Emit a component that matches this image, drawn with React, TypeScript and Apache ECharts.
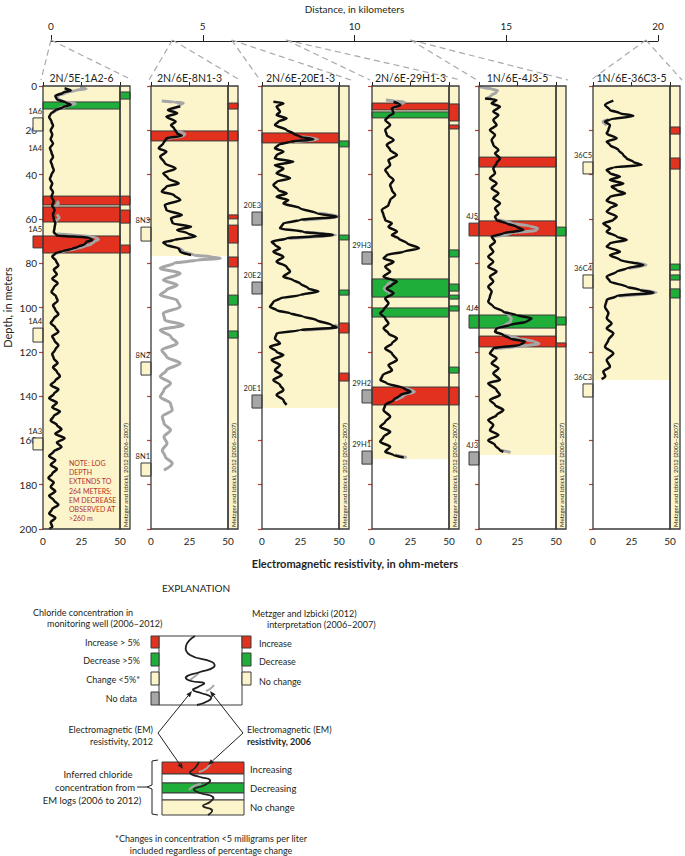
import React, { useEffect, useRef } from "react";
import * as echarts from "echarts";

const FONT = "Lato, 'Open Sans', 'DejaVu Sans', sans-serif";
const INK = "#231f20";
const RED = "#e2321f";
const GREEN = "#1fae3a";
const CREAM = "#fcf5cc";
const NODATA = "#a7a7a7";
const LINE2006 = "#a6a6a6";
const TICKRED = "#b8432f";
const CODE_COLOR: Record<string, string> = { I: RED, D: GREEN, N: CREAM, X: NODATA };

// ---------- data ----------
const wellNames = ["2N/5E-1A2-6", "2N/6E-8N1-3", "2N/6E-20E1-3", "2N/6E-29H1-3", "1N/6E-4J3-5", "1N/6E-36C3-5"];
const wellDistanceKm = [0, 4.0, 5.95, 7.75, 11.85, 19.6];
const logBottomDepth = [200, 76.7, 145.4, 168.4, 166.6, 132.7];

// EM resistivity 2012: [depth m, ohm-m]
const em2012_1 = [[1,14],[2,18],[3,13],[4.5,8],[6,9],[7.5,15],[8.5,18],[9.5,13],[11,8],[12.5,5],[14,4],[16,5.5],[18,6.5],[20,5],[22,6],[24,5],[26,6.5],[28,4.5],[30,5.5],[32,6.5],[34,5],[36,6],[38,7],[40,5.5],[42,4.5],[44,6],[46,5],[48,6.5],[50,5.5],[52,7],[54,6],[56,7.5],[58,6.5],[60,7],[62,8],[64,7.5],[66,7],[67.5,9],[68.5,30],[69.5,32],[70.5,28],[71.5,27],[72.5,23],[73.5,19],[74.5,13],[75.5,8],[77,6],[79,8.5],[81,10],[83,7],[85,9],[87,6],[89,9.5],[91,7],[93,5.5],[95,8.5],[97,9.5],[99,6.5],[101,8],[103,10],[105,7],[107,5],[109,8],[111,10],[113,6],[115,7.5],[117,10],[119,8],[121,6],[123,7],[125,9.5],[127,6.5],[129,9],[131,11],[133,8],[135,5],[137,10],[139,7],[141,4],[143,9],[145,6],[147,11],[149,7],[151,5],[153,9],[155,12],[157,8],[159,14],[161,9],[163,12],[165,7],[167,4],[169,8],[171,5],[173,9],[175,6],[177,3.5],[179,7],[181,5],[183,8],[185,4],[187,7],[189,10],[191,6],[193,4],[195,8],[197,5],[199,6],[200,4]];
const em2012_2 = [[9.3,19],[10.8,11],[12.3,17],[13.8,10],[16.1,16],[17.6,13],[19.1,15],[21.4,17],[22.5,20],[23.6,10],[25.9,8],[28.1,5],[29.6,10],[31.9,6],[34.9,9],[37.2,16],[39.4,8],[41.7,11],[44,18],[45.4,10],[47.7,7],[49.2,15],[51.5,19],[53.7,9],[56,10],[58.2,20],[59.7,13],[62,14],[63.5,26],[65,17],[66.5,24],[68,29],[69.5,15],[70.6,8],[71.8,10],[73.3,18],[74.8,19],[76.3,26]];
const em2012_3 = [[7.1,7.4],[7.8,13.9],[9.3,9.5],[11.6,11.7],[13.1,9.5],[14.6,16],[16.1,10.6],[17.6,8.4],[19.9,16],[21.4,20.3],[22.9,24.7],[24.1,33.3],[25.1,18.2],[26.6,10.6],[28.1,8.4],[29.6,13.9],[31.2,9.5],[32.7,8.4],[34.2,20.3],[35.7,8.4],[37.2,13.9],[39.4,9.5],[41.7,18.2],[43.2,9.5],[44.7,7.4],[47,10.6],[48.5,16],[50,9.5],[51.5,17.1],[53,13.9],[55.2,24.7],[57.5,35.5],[59,48.5],[60.5,24.7],[62,13.9],[64.3,11.7],[65.8,26.8],[67.3,46],[68.8,16],[70.3,6.3],[71.8,8.4],[73.3,11.7],[74.8,7.4],[77.1,13.9],[79.3,9.5],[81.6,16],[83.8,18.2],[86.1,13.9],[87.6,20.3],[89.1,24.7],[91.4,30.1],[92.8,36.6],[94.4,24.7],[95.9,11.7],[97.4,7.4],[99.7,5.2],[101.2,9.5],[102.6,18.2],[104.1,26.8],[105.7,35.5],[107.9,45.2],[109,48.5],[110.2,24.7],[111.7,9.5],[114,8.4],[116.2,11.7],[117.7,5.2],[120,9.5],[121.5,13.9],[123.7,6.3],[126,11.7],[128.3,8.4],[130.5,12.8],[132.7,7.4],[135,11.7],[137.2,13.9],[139.5,9.5],[141.8,13.9],[144,16]];
const em2012_4 = [[7.1,14],[8.6,18.4],[10.1,12.9],[12.3,14],[13.8,10.7],[15.4,8.6],[17.6,11.8],[19.9,8.6],[22.1,9.6],[24.4,14],[26.6,9.6],[28.9,11.8],[31.2,16.2],[33.4,10.7],[35.7,11.8],[37.9,8.6],[40.2,10.7],[42.4,14],[44.7,11.8],[47,12.9],[49.2,15.1],[51.5,11.8],[53.7,10.7],[56,6.4],[58.2,7.5],[60.5,8.6],[62,12.9],[63.5,10.7],[65.8,16.2],[67.3,12.9],[68.8,17.3],[71,22.8],[73.3,30.5],[74.8,20.6],[76.3,9.6],[77.8,7.5],[79.3,14],[81.6,8.6],[83.8,11.8],[86.1,7.5],[88.3,16.2],[89.8,12.9],[91.4,9.6],[93.6,14],[95.9,8.6],[98.1,10.7],[101.1,7.5],[102.6,5.3],[104.9,8.6],[107.2,10.7],[109.4,7.5],[111.7,10.7],[114,16.2],[116.2,12.9],[118.5,8.6],[120.7,12.9],[123.7,16.2],[126,10.7],[128.3,13],[130.5,7],[132.7,5.5],[134.2,9.6],[136.5,20.6],[138,25],[139.5,18.4],[141.8,14],[144,8.6],[146.3,7.5],[149.3,11.8],[151.6,8.6],[153.8,5.3],[156.1,11.8],[158.4,7.5],[160.6,5.3],[162.9,11.8],[165.1,8.6],[166.6,14],[167.7,20.6]];
const em2012_5 = [[5.6,3.9],[6.3,11.4],[7.8,8.2],[9.3,13.6],[11.6,9.3],[13.1,12.6],[15.4,9.3],[17.6,11.4],[19.9,7.1],[22.1,10.4],[24.4,8.2],[26.6,9.3],[28.9,12.6],[30.4,10.4],[32.7,13.6],[34.9,11.4],[37.2,9.3],[39.4,10.4],[41.7,7.1],[44,11.4],[46.2,8.2],[48.5,12.6],[50.7,9.3],[53,13.6],[55.2,10.4],[57.5,12.6],[59,10.4],[60.5,11.4],[62,17.9],[63.5,24.4],[65,28.8],[66.5,15.8],[68,8.2],[70.3,10.4],[72.5,7.1],[74.8,9.3],[77.1,6],[79.3,9.3],[81.6,6],[83.8,11.4],[86.1,7.1],[88.3,9.3],[90.6,6],[92.8,8.2],[95.1,7.1],[97.4,6],[99.6,9.3],[101.9,15.8],[103.4,24.4],[104.9,34.2],[106.4,30.9],[107.9,20.1],[109.4,11.4],[110.9,10.4],[112.4,15.8],[114,20.1],[115.4,29.9],[116.9,26.6],[118.4,9.3],[120.7,7.1],[123,11.4],[125.2,8.2],[127.5,12.6],[129.7,9.3],[132.7,13.6],[134.2,6],[137.2,11.4],[139.5,13.6],[141.8,7.1],[144,10.4],[146.3,15.8],[148.6,11.4],[150.8,6],[153.1,9.3],[155.4,7.1],[157.6,12.6],[159.9,6],[162.2,10.4],[164.4,13.6],[165.1,15.8]];
const em2012_6 = [[6.6,13.2],[8.6,7.8],[10.8,11],[12.3,17.5],[13.5,26.2],[15.1,11],[16.1,7.8],[17.6,11],[19.9,10],[21.4,8.9],[23.6,15.4],[25.1,8.9],[26.6,11],[28.9,16.5],[31.2,19.7],[32.7,21.9],[34.2,26.2],[35.7,31.6],[36.7,13.2],[37.9,8.9],[39.4,11],[40.9,17.5],[42.4,11],[44,19.7],[45.4,12.1],[47,15.4],[48.5,20.8],[50,11],[51.8,8.9],[53.7,15.4],[55.2,11],[56.7,8.9],[59,15.4],[60.5,13.2],[62,6.7],[64.3,11],[65.8,8.9],[68,15.4],[69.5,21.9],[71,11],[72.5,8.9],[74.8,17.5],[76.3,11],[78.5,17.5],[80.8,32.7],[82.3,21.9],[83.8,15.4],[86.1,8.9],[88.3,11],[90.6,21.9],[92.1,30.5],[93.3,39.2],[94.8,15.4],[96.6,8.9],[99.7,7.8],[102.6,10],[104.9,8.9],[107.2,12.1],[109.4,8.9],[111.7,13.2],[114.7,10],[117.7,7.8],[120.7,13.2],[123.7,8.9],[126.7,11],[129,6.7],[131,8],[132.3,5.6]];

// EM resistivity 2006 (visible segments): [depth m, ohm-m]
const em2006_1 = [[[0.5,24],[1.2,28],[2,21],[3,15],[4.2,10],[5.5,9],[7,13],[8,21],[9,16],[10.2,10],[12,6]],[[66.8,9],[68.2,34],[69.3,36],[70.4,33],[71.4,31],[72.4,27],[73.4,22],[74.4,15],[75.6,8]],[[52,9],[53,10],[54,8]],[[58,9],[59.5,10.5],[61,8]]];
const em2006_2 = [[[6.8,7],[7.2,15],[7.6,21],[8.5,19],[9.5,17],[10.8,12]],[[20.3,16],[21.6,22],[22.6,21],[23.6,11]],[[73.3,18],[74.8,21],[76.3,28],[77.3,40],[77.8,45],[78.6,30],[80,15],[82.3,6],[84.6,19],[87.6,8],[89.8,17],[92.1,10],[94.4,6],[96.7,17],[99.7,19],[102.6,8],[105.7,9],[107.9,21],[110.2,6],[113.2,13],[116.2,17],[119.2,7],[122.2,10],[125.2,19],[128.3,10],[131.2,6],[134.2,12.7],[137.2,8.4],[140.3,6],[143.3,12.7],[146.3,13.8],[149.3,7.3],[152.3,8.4],[155.3,12.7],[158.4,8.4],[161.4,10.4],[164.4,7.3],[167.4,9.3],[170.4,13.8],[173.4,8.4]]];
const em2006_3 = [[[22.9,26],[24.1,36],[25.1,21]],[[57.5,37],[59,50],[60.5,27]],[[66,28],[67.3,48],[68.8,18]],[[107.9,47],[109,50],[110.2,27]]];
const em2006_4 = [[[6.3,9],[6.8,15],[7.3,21],[8.6,17],[10.1,14]],[[88.3,13],[89.8,10],[91.4,8],[93.6,12]],[[136.5,22],[138,27.5],[139.5,21],[141.8,15]],[[166.6,15],[167.7,22.5]]];
const em2006_5 = [[[0.3,0.5],[0.8,3],[1.3,8],[2,12],[3,11],[4.2,8],[5.6,5]],[[60.5,12],[62,22],[63.2,33],[64.2,38],[65.2,37],[66.3,22],[68,9]],[[101.9,15.5],[103.4,19],[104.9,21],[106.4,20.5],[107.9,17],[109.4,11.5]],[[112.4,16],[114,26],[115.4,36],[116.4,39],[117.6,25],[118.6,10]],[[164.4,14],[165.4,20.5]]];
const em2006_6 = [[[15.1,10],[16.1,6.5],[17.6,9]],[[79.8,28],[80.8,34.5],[82.3,23]],[[92.1,31],[93.3,41],[94.8,17]]];

// Inferred chloride change from EM logs: [top m, bottom m, code]  I=increasing, D=decreasing
const bands_1 = [[7.2,10.4,"D"],[49.7,53.7,"I"],[54.6,61.4,"I"],[67.7,75.4,"I"]];
const bands_2 = [[20.3,24.8,"I"]];
const bands_3 = [[21.2,25.7,"I"]];
const bands_4 = [[7.7,10.8,"I"],[11.7,14.4,"D"],[87.1,95.3,"D"],[100.2,104.3,"D"],[135.9,144,"I"]];
const bands_5 = [[32.1,36.6,"I"],[60.9,67.7,"I"],[103.4,109.3,"D"],[112.9,117.8,"I"]];
const bands_6: any[] = [];

// Metzger and Izbicki (2012) interpretation strip
const interp_1 = [[2.7,5.9,"D"],[49.7,53.7,"I"],[56,61.9,"I"],[71.8,75.4,"I"]];
const interp_2 = [[7.7,10.4,"I"],[20.3,24.8,"I"],[58.2,60,"I"],[62.8,70.9,"I"],[77.2,81.7,"I"],[94.4,98.9,"D"],[110.6,113.8,"D"]];
const interp_3 = [[24.8,27.5,"D"],[67.3,69.5,"D"],[92.1,94.4,"D"],[107,111.5,"I"],[129.6,133.2,"I"]];
const interp_4 = [[8.1,15.8,"I"],[17.6,19.4,"I"],[74,77.2,"D"],[89.4,92.6,"D"],[94.4,96.2,"D"],[99.3,101.6,"D"],[126.9,129.6,"D"],[135.9,144,"I"]];
const interp_5 = [[63.7,67.7,"D"],[104.3,107.9,"D"],[116,117.8,"I"]];
const interp_6 = [[18.5,21.7,"I"],[32.5,37.5,"I"],[80.4,83.1,"D"],[85.3,87.6,"D"],[91.6,95.7,"D"]];

// Monitoring wells: [name, top m, bottom m, chloride change code] N=change <5%, X=no data
const wells_1 = [["1A6",14.4,20.3,"N"],["1A4",31,31,""],["1A5",67.7,73.1,"I"],["1A4",109.3,115.6,"N"],["1A3",158.9,164.3,"N"]];
const wells_2 = [["8N3",63.7,70,"N"],["8N2",124.6,130.5,"N"],["8N1",170.2,176.1,"N"]];
const wells_3 = [["20E3",56.9,62.8,"X"],["20E2",88.5,93.9,"X"],["20E1",139.5,145.4,"X"]];
const wells_4 = [["29H3",74.9,80.4,"X"],["29H2",137.2,143.1,"X"],["29H1",164.8,170.7,"X"]];
const wells_5 = [["4J5",61.9,67.7,"I"],["4J4",103.4,109.3,"D"],["4J3",165.2,171.1,"X"]];
const wells_6 = [["36C5",34.3,39.7,"N"],["36C4",85.3,91.2,"N"],["36C3",134.5,140.4,"N"]];

const em2012 = [em2012_1, em2012_2, em2012_3, em2012_4, em2012_5, em2012_6];
const em2006 = [em2006_1, em2006_2, em2006_3, em2006_4, em2006_5, em2006_6];
const bands = [bands_1, bands_2, bands_3, bands_4, bands_5, bands_6];
const interp = [interp_1, interp_2, interp_3, interp_4, interp_5, interp_6];
const wells = [wells_1, wells_2, wells_3, wells_4, wells_5, wells_6];

// ---------- layout ----------
const PANEL_LEFT = [43, 151, 262, 372, 479, 593];
const PLOT_W = 77;
const STRIP_W = 10;
const TOP = 86;
const H = 443;

function buildOption() {
  const grids: any[] = [{ left: 51, top: 40, width: 607, height: 1, outerBoundsMode: "none" }];
  const xAxes: any[] = [{
    gridIndex: 0, type: "value", min: 0, max: 20, interval: 5, position: "top",
    name: "Distance, in kilometers", nameLocation: "middle", nameGap: 26,
    nameTextStyle: { fontSize: 10, color: INK, fontFamily: FONT },
    axisLine: { lineStyle: { color: INK, width: 1.2 } },
    axisTick: { show: true, length: 6, lineStyle: { color: INK } },
    axisLabel: { margin: 9, fontSize: 10, color: INK, fontFamily: FONT },
    splitLine: { show: false },
  }];
  const yAxes: any[] = [{ gridIndex: 0, type: "value", min: 0, max: 1, show: false }];
  const series: any[] = [];

  series.push({
    type: "custom", xAxisIndex: 0, yAxisIndex: 0, silent: true, z: 1,
    data: wellDistanceKm.map((k) => [k, 1]),
    renderItem: (params: any, api: any) => {
      const p = api.coord([api.value(0), 1]);
      const L = PANEL_LEFT[params.dataIndex];
      const st = { stroke: "#a9a9a9", lineWidth: 1.2, lineDash: [6, 4] };
      return {
        type: "group",
        children: [
          { type: "line", shape: { x1: p[0], y1: p[1], x2: L - 2, y2: 80 }, style: st },
          { type: "line", shape: { x1: p[0], y1: p[1], x2: L + PLOT_W + STRIP_W + 2, y2: 80 }, style: st },
        ],
      };
    },
  });

  for (let i = 0; i < 6; i++) {
    const L = PANEL_LEFT[i];
    const gMain = grids.length;
    grids.push({ left: L, top: TOP, width: PLOT_W, height: H, outerBoundsMode: "none" });
    const gStrip = grids.length;
    grids.push({ left: L + PLOT_W, top: TOP, width: STRIP_W, height: H, outerBoundsMode: "none" });

    const xb = xAxes.length;
    xAxes.push({
      gridIndex: gMain, type: "value", min: 0, max: 50, interval: 25, position: "bottom",
      axisLine: { show: false },
      axisTick: { show: true, inside: true, length: 4, lineStyle: { color: INK } },
      axisLabel: { fontSize: 10, margin: 7, color: INK, fontFamily: FONT },
      splitLine: { show: false },
    });
    xAxes.push({
      gridIndex: gMain, type: "value", min: 0, max: 50, interval: 25, position: "top",
      name: wellNames[i], nameLocation: "middle", nameGap: 3,
      nameTextStyle: { fontSize: 10.5, color: INK, fontFamily: FONT },
      axisLine: { show: false },
      axisTick: { show: true, inside: true, length: 4, lineStyle: { color: INK } },
      axisLabel: { show: false }, splitLine: { show: false },
    });
    const yl = yAxes.length;
    yAxes.push({
      gridIndex: gMain, type: "value", inverse: true, min: 0, max: 200, interval: 20, position: "left",
      name: i === 0 ? "Depth, in meters" : "", nameLocation: "middle", nameGap: 30,
      nameTextStyle: { fontSize: 11, color: INK, fontFamily: FONT },
      axisLine: { show: false },
      axisTick: { show: i === 0, length: 4, lineStyle: { color: INK } },
      axisLabel: { show: i === 0, fontSize: 10, margin: 6, color: INK, fontFamily: FONT },
      splitLine: { show: false },
    });
    yAxes.push({
      gridIndex: gMain, type: "value", inverse: true, min: 0, max: 200, interval: 20, position: "right",
      axisLine: { show: false },
      axisTick: { show: true, inside: true, length: 4, lineStyle: { color: TICKRED, width: 1.2 } },
      axisLabel: { show: false }, splitLine: { show: false },
    });
    const xs = xAxes.length;
    xAxes.push({ gridIndex: gStrip, type: "value", min: 0, max: 1, show: false });
    const ys = yAxes.length;
    yAxes.push({ gridIndex: gStrip, type: "value", inverse: true, min: 0, max: 200, show: false });

    const rectOf = (cs: any, api: any, t: number, b: number, fill: string, stroke: any, lw = 1) => {
      const a = api.coord([0, t]);
      const c = api.coord([0, b]);
      return { type: "rect", shape: { x: cs.x, y: a[1], width: cs.width, height: c[1] - a[1] }, style: { fill, stroke, lineWidth: lw } };
    };

    // cream background of main log
    series.push({
      type: "custom", xAxisIndex: xb, yAxisIndex: yl, silent: true, z: 1,
      data: [[0, logBottomDepth[i]]],
      renderItem: (params: any, api: any) => rectOf(params.coordSys, api, api.value(0), api.value(1), CREAM, null, 0),
    });
    // chloride bands inferred from EM logs
    const bd = bands[i];
    series.push({
      type: "custom", xAxisIndex: xb, yAxisIndex: yl, silent: true, z: 2,
      data: bd.map((b: any) => [b[0], b[1]]),
      renderItem: (params: any, api: any) => {
        const b = bd[params.dataIndex];
        return rectOf(params.coordSys, api, b[0], b[1], CODE_COLOR[b[2]], "#3a3a3a", 1);
      },
    });
    // 2006 resistivity segments
    em2006[i].forEach((seg: any) => {
      series.push({
        type: "line", xAxisIndex: xb, yAxisIndex: yl, silent: true, z: 4,
        data: seg.map((p: any) => [p[1], p[0]]),
        symbol: "none", showSymbol: false, smooth: 0.3, smoothMonotone: "y",
        lineStyle: { color: LINE2006, width: 3 }, emphasis: { disabled: true },
      });
    });
    // 2012 resistivity
    series.push({
      type: "line", xAxisIndex: xb, yAxisIndex: yl, silent: true, z: 5,
      data: em2012[i].map((p: any) => [p[1], p[0]]),
      symbol: "none", showSymbol: false, smooth: 0.3, smoothMonotone: "y",
      lineStyle: { color: "#0d0d0d", width: 2.5 }, emphasis: { disabled: true },
    });
    // monitoring wells
    const wl = wells[i];
    series.push({
      type: "custom", xAxisIndex: xb, yAxisIndex: yl, silent: true, z: 6, clip: false,
      data: wl.map((w: any) => [w[1], w[2]]),
      renderItem: (params: any, api: any) => {
        const w = wl[params.dataIndex];
        const cs = params.coordSys;
        const a = api.coord([0, w[1]]);
        const b = api.coord([0, w[2]]);
        const children: any[] = [];
        if (w[3]) {
          children.push({ type: "rect", shape: { x: cs.x - 10, y: a[1], width: 10, height: b[1] - a[1] }, style: { fill: CODE_COLOR[w[3]], stroke: "#3a3a3a", lineWidth: 1 } });
        }
        children.push({ type: "text", x: cs.x - 1, y: a[1] - 2.5, style: { text: w[0], fontSize: 7.5, fontFamily: FONT, fill: INK, textAlign: "right", textVerticalAlign: "bottom" } });
        return { type: "group", children };
      },
    });
    // frame
    series.push({
      type: "custom", xAxisIndex: xb, yAxisIndex: yl, silent: true, z: 8, clip: false,
      data: [[0, 200]],
      renderItem: (params: any, api: any) => rectOf(params.coordSys, api, 0, 200, "none", "#3a3a3a", 1.3),
    });

    // interpretation strip
    const ip = interp[i];
    series.push({
      type: "custom", xAxisIndex: xs, yAxisIndex: ys, silent: true, z: 1,
      data: [[0, 200]],
      renderItem: (params: any, api: any) => rectOf(params.coordSys, api, 0, 200, CREAM, null, 0),
    });
    series.push({
      type: "custom", xAxisIndex: xs, yAxisIndex: ys, silent: true, z: 2,
      data: ip.map((b: any) => [b[0], b[1]]),
      renderItem: (params: any, api: any) => {
        const b = ip[params.dataIndex];
        return rectOf(params.coordSys, api, b[0], b[1], CODE_COLOR[b[2]], "#3a3a3a", 1);
      },
    });
    series.push({
      type: "custom", xAxisIndex: xs, yAxisIndex: ys, silent: true, z: 8, clip: false,
      data: [[0, 200]],
      renderItem: (params: any, api: any) => rectOf(params.coordSys, api, 0, 200, "none", "#3a3a3a", 1.3),
    });
  }

  // ---------- graphics ----------
  const g: any[] = [];
  const txt = (text: string, x: number, y: number, align = "left", size = 9, weight: any = "normal", fill = INK, extra: any = {}) => ({
    type: "text", x, y, silent: true, z: 20, ...extra,
    style: { text, fontSize: size, fontFamily: FONT, fontWeight: weight, fill, textAlign: align, textVerticalAlign: "middle" },
  });
  const box = (x: number, y: number, w: number, h: number, fill: string, stroke: any = "#3a3a3a") => ({
    type: "rect", silent: true, z: 20, shape: { x, y, width: w, height: h }, style: { fill, stroke, lineWidth: 1 },
  });
  const curve = (pts: number[][], stroke: string, lw: number) => ({
    type: "polyline", silent: true, z: 21, shape: { points: pts, smooth: 0.5 }, style: { stroke, lineWidth: lw, fill: "none" },
  });
  const arrow = (x1: number, y1: number, x2: number, y2: number) => {
    const dx = x2 - x1, dy = y2 - y1;
    const len = Math.sqrt(dx * dx + dy * dy);
    const ux = dx / len, uy = dy / len;
    const hl = 6, hw = 2.4;
    const bx = x2 - ux * hl, by = y2 - uy * hl;
    return [
      { type: "line", silent: true, z: 22, shape: { x1, y1, x2: bx, y2: by }, style: { stroke: INK, lineWidth: 1 } },
      { type: "polygon", silent: true, z: 22, shape: { points: [[x2, y2], [bx - uy * hw, by + ux * hw], [bx + uy * hw, by - ux * hw]] }, style: { fill: INK } },
    ];
  };

  // strip captions and note
  for (let i = 0; i < 6; i++) {
    g.push(txt("Metzger and Izbicki, 2012 (2006–2007)", PANEL_LEFT[i] + PLOT_W + STRIP_W / 2, 527, "left", 6, "normal", INK, { rotation: Math.PI / 2 }));
  }
  ["NOTE: LOG", "DEPTH", "EXTENDS TO", "264 METERS;", "EM DECREASE", "OBSERVED AT", ">260 m"].forEach((s, k) => {
    g.push(txt(s, 69, 463 + k * 9.2, "left", 7, "normal", "#b3341f"));
  });
  g.push(txt("Electromagnetic resistivity, in ohm-meters", 355, 563, "center", 11, "bold"));

  // explanation
  g.push(txt("EXPLANATION", 196, 588, "center", 10));
  g.push(txt("Chloride concentration in", 33, 612));
  g.push(txt("monitoring well (2006–2012)", 47, 623));
  g.push(txt("Metzger and Izbicki (2012)", 252, 613));
  g.push(txt("interpretation (2006–2007)", 267, 624));
  g.push(box(159, 636, 83, 69, "#ffffff"));
  g.push(box(151, 636, 8, 12, RED), box(151, 653, 8, 13, GREEN), box(151, 672, 8, 13, CREAM), box(151, 692, 8, 13, NODATA));
  g.push(box(242, 636, 9, 12, RED), box(242, 653, 9, 13, GREEN), box(242, 672, 9, 13, CREAM));
  g.push(txt("Increase > 5%", 140, 642, "right"), txt("Decrease >5%", 140, 660, "right"), txt("Change <5%*", 140, 679, "right"), txt("No data", 137, 698, "right"));
  g.push(txt("Increase", 259, 643), txt("Decrease", 259, 661), txt("No change", 259, 681));
  g.push(curve([[199, 673], [194, 677], [190, 680]], LINE2006, 2));
  g.push(curve([[214, 685], [210, 689], [206, 691]], LINE2006, 2));
  g.push(curve([[195, 636], [186, 646], [190, 655], [212, 662], [214, 667], [200, 672], [186, 677], [191, 681], [204, 683], [198, 687], [193, 690], [201, 693], [211, 697], [208, 701], [197, 705]], INK, 1.8));
  g.push(...arrow(158, 733, 192, 691), ...arrow(158, 733, 183, 769), ...arrow(243, 733, 210, 691), ...arrow(243, 733, 208, 765));
  g.push(txt("Electromagnetic (EM)", 153, 729, "right"), txt("resistivity, 2012", 153, 741, "right"));
  g.push(txt("Electromagnetic (EM)", 247, 729), txt("resistivity, 2006", 247, 741, "left", 9, "bold"));
  g.push(box(162, 762, 82, 12, RED), box(162, 774, 82, 9, "#ffffff"), box(162, 783, 82, 10, GREEN), box(162, 793, 82, 7, "#ffffff"), box(162, 800, 82, 15, CREAM));
  g.push(curve([[211, 762], [207, 768], [199, 772]], LINE2006, 2));
  g.push(curve([[189, 790], [194, 786], [201, 784]], LINE2006, 2));
  g.push(curve([[199, 762], [195, 768], [190, 773], [200, 777], [210, 780], [205, 785], [194, 789], [200, 793], [213, 797], [210, 802], [203, 806], [212, 810], [208, 815]], INK, 1.8));
  g.push(txt("Increasing", 250, 769, "left", 9.5), txt("Decreasing", 250, 788, "left", 9.5), txt("No change", 250, 807, "left", 9.5));
  g.push({ type: "polyline", silent: true, z: 21, shape: { points: [[158, 760], [152, 761], [152, 785], [147, 787], [152, 789], [152, 814], [158, 815]] }, style: { stroke: INK, lineWidth: 1, fill: "none" } });
  g.push({ type: "line", silent: true, z: 21, shape: { x1: 137, y1: 787, x2: 147, y2: 787 }, style: { stroke: INK, lineWidth: 1 } });
  g.push(txt("Inferred chloride", 98, 774, "center", 9.5), txt("concentration from", 95, 787, "center", 9.5), txt("EM logs (2006 to 2012)", 92, 800, "center", 9.5));
  g.push(txt("*Changes in concentration <5 milligrams per liter", 211, 838, "center", 9), txt("included regardless of percentage change", 211, 850, "center", 9));

  return {
    animation: false,
    backgroundColor: "#ffffff",
    textStyle: { fontFamily: FONT },
    grid: grids,
    xAxis: xAxes,
    yAxis: yAxes,
    series,
    graphic: { elements: g },
  };
}

export default function App() {
  const ref = useRef<HTMLDivElement>(null);
  useEffect(() => {
    if (!ref.current) return;
    const chart = echarts.init(ref.current, undefined, { renderer: "svg" });
    chart.setOption(buildOption() as any);
    return () => chart.dispose();
  }, []);
  return <div ref={ref} style={{ position: "absolute", left: 0, top: 0, width: 685, height: 856 }} />;
}
